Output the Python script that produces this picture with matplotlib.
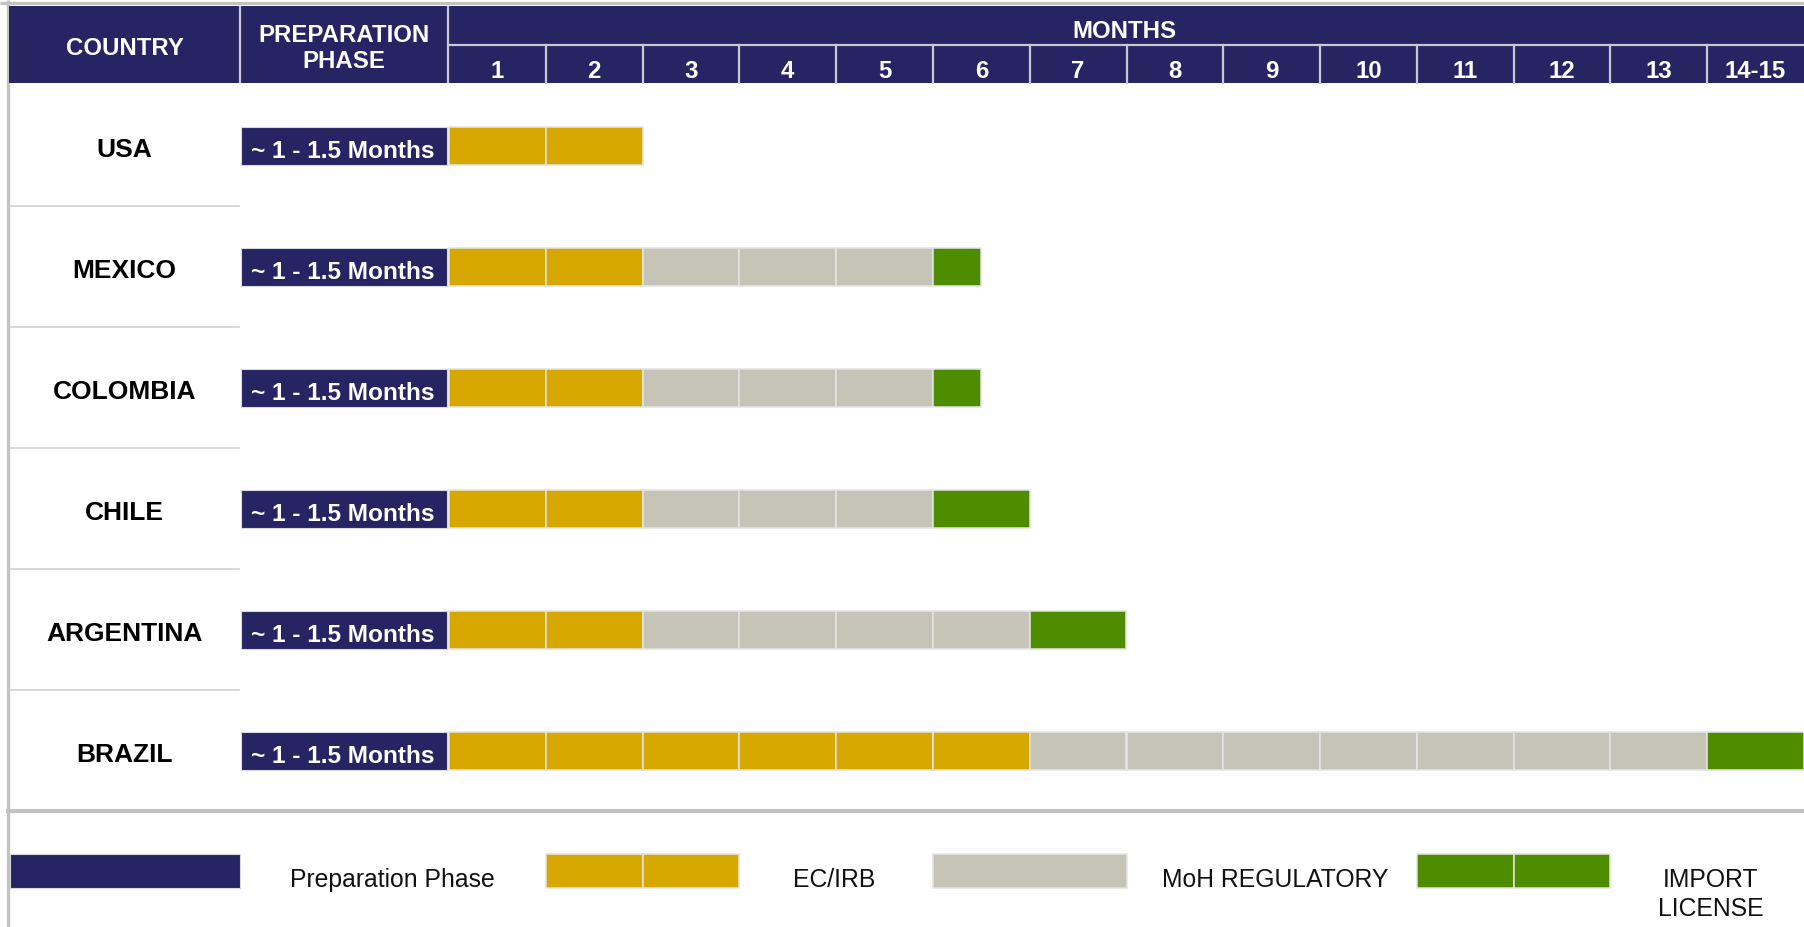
import matplotlib
matplotlib.use("Agg")
import matplotlib.pyplot as plt
from matplotlib.patches import Rectangle

plt.rcParams['font.family'] = ['Liberation Sans', 'DejaVu Sans']

# ---------------- data ----------------
countries = ["USA", "MEXICO", "COLOMBIA", "CHILE", "ARGENTINA", "BRAZIL"]
prep_label = "~ 1 - 1.5 Months"
month_labels = ["1", "2", "3", "4", "5", "6", "7", "8", "9", "10", "11", "12", "13", "14-15"]
# start (months after preparation phase) and duration (months) of each phase
ecirb_start = [0, 0, 0, 0, 0, 0]
ecirb_months = [2, 2, 2, 2, 2, 6]
moh_start = [2, 2, 2, 2, 2, 6]
moh_months = [0, 3, 3, 3, 4, 7]
import_start = [2, 5, 5, 5, 6, 13]
import_months = [0, 0.5, 0.5, 1, 1, 1]
legend_labels = ["Preparation Phase", "EC/IRB", "MoH REGULATORY", "IMPORT\nLICENSE"]

# ---------------- style ----------------
NAVY = "#262462"
GOLD = "#D6A800"
GREY = "#C6C4B7"
GREEN = "#4F8D00"
CELL_EDGE = "#E4E4E4"
HEAD_LINE = "#C8C8D2"
BORDER = "#C3C3C3"

W, H = 1804, 927
MONTH_X0 = 449.0
COL = (W - MONTH_X0) / 14.0
ROW0 = 145.5
PITCH = 121.1
BAR_H = 38.0 / PITCH


def X(px):
    return (px - MONTH_X0) / COL


def Y(py):
    return (py - ROW0) / PITCH


fig = plt.figure(figsize=(W / 100, H / 100), dpi=100)
ax = fig.add_axes([0, 0, 1, 1])
ax.set_xlim(X(0), X(W))
ax.set_ylim(Y(H), Y(0))
ax.axis("off")


def hline(py, x0, x1, color, lw):
    ax.plot([X(x0), X(x1)], [Y(py), Y(py)], color=color, lw=lw, solid_capstyle="butt")


def vline(px, y0, y1, color, lw):
    ax.plot([X(px), X(px)], [Y(y0), Y(y1)], color=color, lw=lw, solid_capstyle="butt")


# outer borders
hline(3, 0, W, BORDER, 2.4)
vline(7.5, 0, H, BORDER, 2.4)
hline(811, 6, W, BORDER, 3.0)

# ---------------- header ----------------
ax.add_patch(Rectangle((X(9), Y(6)), X(W) - X(9), Y(83) - Y(6), fc=NAVY, ec="none", zorder=2))
vline(240, 6, 83, HEAD_LINE, 1.6)
vline(448, 6, 83, HEAD_LINE, 1.6)
hline(45, 448, W, HEAD_LINE, 1.6)
for k in range(1, len(month_labels)):
    ax.plot([k, k], [Y(45), Y(83)], color=HEAD_LINE, lw=1.6, zorder=3)
hdr = dict(color="white", fontweight="bold", fontsize=17.3, ha="center", va="baseline", zorder=4)
ax.text(X(124.5), Y(55), "COUNTRY", **hdr)
ax.text(X(344), Y(41.5), "PREPARATION", **hdr)
ax.text(X(344), Y(68), "PHASE", **hdr)
ax.text(X((MONTH_X0 + W) / 2 - 2), Y(37.5), "MONTHS", **hdr)
for k, lab in enumerate(month_labels):
    ax.text(k + 0.5, Y(77.5), lab, **hdr)

# ---------------- rows ----------------
for i in range(len(countries) - 1):
    ax.plot([X(10), X(239)], [i + 0.5, i + 0.5], color="#D2D2D2", lw=1.2)


def cells(row, start, dur, color):
    m = start
    remaining = dur
    while remaining > 1e-9:
        w = min(1.0, remaining)
        ax.add_patch(Rectangle((m, row - BAR_H / 2), w, BAR_H, fc=color,
                               ec=CELL_EDGE, lw=1.1, zorder=2))
        m += w
        remaining -= w


for i, c in enumerate(countries):
    ax.text(X(124.5), i + 11.5 / PITCH, c, fontsize=19, fontweight="bold",
            color="black", ha="center", va="baseline")
    ax.add_patch(Rectangle((X(241), i - BAR_H / 2), X(447) - X(241), BAR_H,
                           fc=NAVY, ec="#D8D8E0", lw=0.8, zorder=2))
    ax.text(X(251), i + 12.0 / PITCH, prep_label, fontsize=17.6, fontweight="bold",
            color="white", ha="left", va="baseline", zorder=3)
    cells(i, ecirb_start[i], ecirb_months[i], GOLD)
    cells(i, moh_start[i], moh_months[i], GREY)
    cells(i, import_start[i], import_months[i], GREEN)

# ---------------- legend ----------------
ly = Y(871)
lh = 34 / PITCH
ax.add_patch(Rectangle((X(10), ly - lh / 2), X(240) - X(10), lh, fc=NAVY, ec="#D8D8E0", lw=0.8))
for m in (1, 2):
    ax.add_patch(Rectangle((m, ly - lh / 2), 1, lh, fc=GOLD, ec=CELL_EDGE, lw=1.1))
ax.add_patch(Rectangle((5, ly - lh / 2), 2, lh, fc=GREY, ec=CELL_EDGE, lw=1.1))
for m in (10, 11):
    ax.add_patch(Rectangle((m, ly - lh / 2), 1, lh, fc=GREEN, ec=CELL_EDGE, lw=1.1))

leg = dict(color="#111111", fontsize=17.8, ha="center", va="baseline")
ax.text(X(392), Y(887), legend_labels[0], **leg)
ax.text(X(834), Y(887), legend_labels[1], **leg)
ax.text(X(1275), Y(887), legend_labels[2], **leg)
imp1, imp2 = legend_labels[3].split("\n")
ax.text(X(1711), Y(887), imp1, **leg)
ax.text(X(1711), Y(916), imp2, **leg)

fig.savefig("out.png", dpi=100)
